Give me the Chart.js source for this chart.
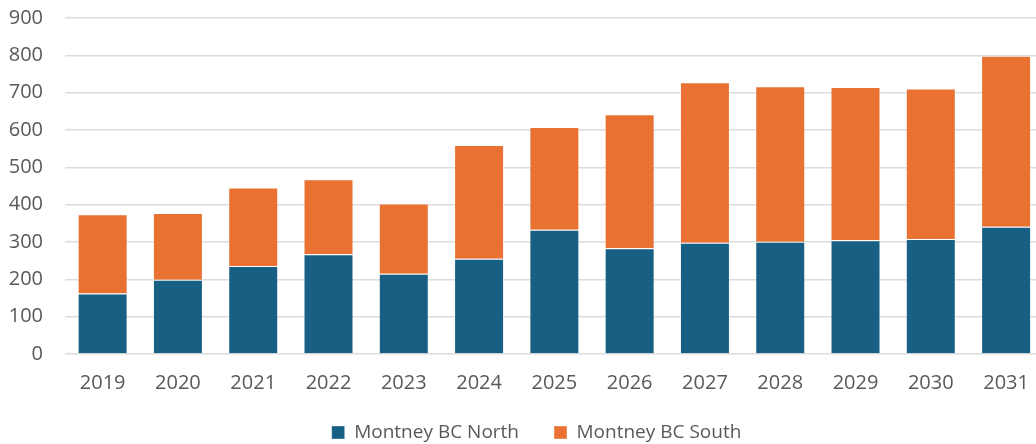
<!DOCTYPE html>
<html>
<head>
<meta charset="utf-8">
<title>Montney BC</title>
<script src="https://cdn.jsdelivr.net/npm/chart.js@4.4.1/dist/chart.umd.min.js"></script>
<style>
    html, body { margin: 0; padding: 0; background: #fff; overflow: hidden; }
    #wrap { width: 1046px; height: 476px; }
</style>
</head>
<body>
<div id="wrap"><canvas id="montneyChart" width="1046" height="476"></canvas></div>
<script>
// yearly volumes by area
const years = ['2019', '2020', '2021', '2022', '2023', '2024', '2025', '2026', '2027', '2028', '2029', '2030', '2031'];
const northValues = [162, 199, 236, 267, 215, 255, 333, 283, 298, 301, 305, 308, 341];
const southValues = [212, 179, 210, 201, 188, 305, 275, 359, 430, 416, 410, 403, 458];
const yTicks = [0, 100, 200, 300, 400, 500, 600, 700, 800, 900];

const blue = '#176083';
const orange = '#e97132';
const textGrey = '#595959';
const fontFamily = '"Open Sans", "Liberation Sans", sans-serif';

// move the legend a bit right and up after layout
const legendNudge = {
    id: 'legendNudge',
    afterLayout(chart) {
        const lg = chart.legend;
        if (!lg) return;
        lg.left += 14;
        lg.right += 14;
        lg.top -= 24;
        lg.bottom -= 24;
    }
};

new Chart(document.getElementById('montneyChart'), {
    type: 'bar',
    data: {
        labels: years,
        datasets: [{
            label: 'Montney BC North',
            data: northValues,
            backgroundColor: blue,
            borderColor: 'rgba(255,255,255,0.35)',
            borderWidth: 1
        }, {
            label: 'Montney BC South',
            data: southValues,
            backgroundColor: orange,
            borderColor: 'rgba(255,255,255,0.35)',
            borderWidth: 1
        }]
    },
    options: {
        responsive: false,
        animation: false,
        layout: {
            padding: { top: 18, left: 0, right: 1, bottom: 0 }
        },
        datasets: {
            bar: { categoryPercentage: 1, barPercentage: 0.664 }
        },
        scales: {
            x: {
                stacked: true,
                grid: { display: false, drawTicks: false },
                border: { display: false },
                ticks: {
                    color: textGrey,
                    padding: 17,
                    maxRotation: 0,
                    font: { family: fontFamily, size: 20 }
                }
            },
            y: {
                stacked: true,
                min: 0,
                max: 900,
                afterFit: scale => { scale.width = 65; },
                afterBuildTicks: scale => { scale.ticks = yTicks.map(v => ({ value: v })); },
                // invisible tick marks give the gap between labels and plot
                grid: { color: '#dcdcdc', lineWidth: 1.5, drawTicks: true, tickLength: 22, tickColor: 'rgba(0,0,0,0)' },
                border: { display: false },
                ticks: {
                    color: textGrey,
                    padding: 0,
                    font: { family: fontFamily, size: 20 }
                }
            }
        },
        plugins: {
            legend: {
                position: 'bottom',
                labels: {
                    color: textGrey,
                    boxWidth: 13,
                    boxHeight: 13,
                    padding: 35,
                    font: { family: fontFamily, size: 19 }
                }
            },
            tooltip: { enabled: false }
        }
    },
    plugins: [legendNudge]
});
</script>
</body>
</html>
